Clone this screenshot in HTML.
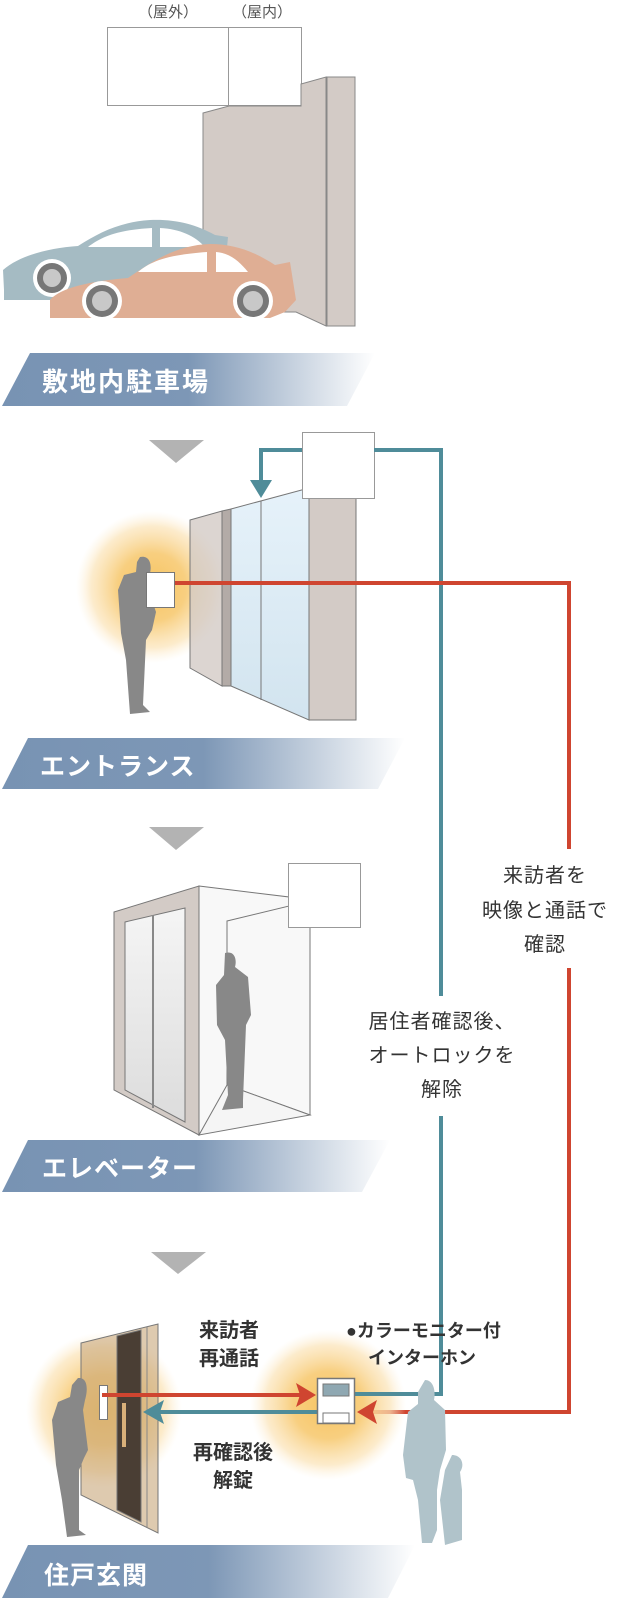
<!DOCTYPE html>
<html><head><meta charset="utf-8"><style>
html,body{margin:0;padding:0;background:#fff}
svg{display:block}
text{font-family:"Liberation Sans","Noto Sans CJK JP",sans-serif}
</style></head><body>
<svg width="621" height="1599" viewBox="0 0 621 1599" xmlns="http://www.w3.org/2000/svg">
<defs>
<linearGradient id="ban" x1="0" x2="1" y1="0" y2="0">
<stop offset="0" stop-color="#7893b3"/><stop offset="0.5" stop-color="#7d97b6"/><stop offset="1" stop-color="#ffffff"/>
</linearGradient>
<radialGradient id="glow"><stop offset="0" stop-color="#f6c461"/><stop offset="0.45" stop-color="#f8cf80"/><stop offset="0.8" stop-color="#fbe3b6" stop-opacity="0.7"/><stop offset="1" stop-color="#fdf0d8" stop-opacity="0"/></radialGradient>
<linearGradient id="glass" x1="0" x2="0" y1="0" y2="1"><stop offset="0" stop-color="#e6f2fa"/><stop offset="1" stop-color="#d2e4ef"/></linearGradient>
<linearGradient id="elv" x1="0" x2="0" y1="0" y2="1"><stop offset="0" stop-color="#f5f5f5"/><stop offset="1" stop-color="#dcdcdc"/></linearGradient>
</defs>

<text x="168" y="17" font-size="15" fill="#555" text-anchor="middle">（屋外）</text>
<text x="262" y="17" font-size="15" fill="#555" text-anchor="middle">（屋内）</text>
<rect x="107.5" y="27.5" width="121" height="78" fill="#fff" stroke="#999"/>
<rect x="228.5" y="27.5" width="73" height="78" fill="#fff" stroke="#999"/>
<polygon points="203,113 229,106 301,106 301,84 326,77 326,326 296,312 203,312" fill="#d3cbc6" stroke="#888"/>
<rect x="327" y="77" width="28" height="249" fill="#d3cbc6" stroke="#888"/>
<path d="M4,290 L3,270 C20,255 50,248 78,246 C100,232 120,222 150,220 C175,219 195,224 215,235 L228,237 L222,300 L4,300 Z" fill="#a5bbc3"/>
<path d="M88,247 C100,238 115,230 152,228 L152,247 Z M160,228 C180,229 195,236 205,247 L160,247 Z" fill="#fff"/>
<circle cx="52" cy="278" r="19" fill="#fff"/><circle cx="52" cy="278" r="15" fill="#777"/><circle cx="52" cy="278" r="9" fill="#c8c8c8"/>
<path d="M50,318 L50,300 C60,288 90,281 128,278 C150,263 175,245 210,244 C235,244 255,252 275,265 L290,262 L296,300 L285,312 L270,318 Z" fill="#dfae94"/>
<path d="M138,272 C150,262 165,255 207,252 L207,272 Z M216,252 C230,253 240,262 248,272 L216,272 Z" fill="#fff"/>
<circle cx="102" cy="301" r="20" fill="#fff"/><circle cx="102" cy="301" r="16" fill="#777"/><circle cx="102" cy="301" r="10" fill="#c8c8c8"/>
<circle cx="253" cy="301" r="20" fill="#fff"/><circle cx="253" cy="301" r="16" fill="#777"/><circle cx="253" cy="301" r="10" fill="#c8c8c8"/>

<polygon points="30,353 375,353 347,406 2,406" fill="url(#ban)"/>
<text x="42" y="391" font-size="26" fill="#fff" letter-spacing="2" font-weight="bold">敷地内駐車場</text>
<polygon points="149,440 204,440 176,463" fill="#b3b3b3"/>

<ellipse cx="152" cy="587" rx="76" ry="76" fill="url(#glow)"/>
<polygon points="190,520 222,511 222,686 190,668" fill="#d3cbc6" fill-opacity="0.8" stroke="#777"/>
<polygon points="222,511 231,509 231,686 222,686" fill="#b3aba7" stroke="#777"/>
<polygon points="231,509 309,488 309,720 231,686" fill="url(#glass)" stroke="#777"/>
<line x1="261" y1="501" x2="261" y2="700" stroke="#777"/>
<rect x="309" y="498" width="47" height="222" fill="#d3cbc6" stroke="#777"/>
<path d="M140,557 C150,555 152,565 150,573 L147,585 L156,612 L152,630 L146,640 L143,705 L150,712 L130,714 L126,660 L121,633 L118,590 L124,575 L136,572 L137,562 Z" fill="#888"/>
<rect x="146.5" y="572.5" width="28" height="35" fill="#fff" stroke="#777"/>
<rect x="302.5" y="432.5" width="72" height="66" fill="#fff" stroke="#999"/>
<polyline points="302,450 261,450 261,485" fill="none" stroke="#4f8c99" stroke-width="4"/>
<polygon points="250,480 272,480 261,498" fill="#4f8c99"/>
<polyline points="374,450 441,450 441,996" fill="none" stroke="#4f8c99" stroke-width="4"/>
<line x1="441" y1="1116" x2="441" y2="1396" stroke="#4f8c99" stroke-width="4"/>
<polyline points="175,583 569,583 569,849" fill="none" stroke="#cf4530" stroke-width="4"/>
<polyline points="569,968 569,1412 370,1412" fill="none" stroke="#cf4530" stroke-width="4"/>

<polygon points="28,738 405,738 378,789 2,789" fill="url(#ban)"/>
<text x="40" y="775" font-size="25" fill="#fff" letter-spacing="1" font-weight="bold">エントランス</text>
<polygon points="149,827 204,827 176,850" fill="#b3b3b3"/>

<polygon points="199,886 289,897 289,921 227,921 227,1120 199,1135" fill="#f8f8f8" stroke="#777"/>
<polygon points="227,921 289,906 310,926 310,1115 227,1085" fill="#f8f8f8" stroke="#777"/>
<polygon points="227,1085 310,1115 199,1135" fill="#f5f5f5" stroke="#777"/>
<polygon points="114,912 199,886 199,1135 114,1090" fill="#d3cbc6" stroke="#777"/>
<polygon points="125,922 185,908 185,1122 125,1090" fill="url(#elv)" stroke="#777"/>
<line x1="153" y1="915" x2="153" y2="1108" stroke="#888" stroke-width="2"/>
<path d="M225,953 C235,950 237,960 235,967 L248,977 L251,1015 L246,1025 L243,1100 L243,1108 L222,1110 L228,1095 L225,1040 L217,1025 L216,985 L224,975 Z" fill="#888"/>
<rect x="288.5" y="863.5" width="72" height="64" fill="#fff" stroke="#999"/>

<g font-size="20" fill="#333" text-anchor="middle" letter-spacing="1">
<text x="545" y="882">来訪者を</text>
<text x="545" y="917">映像と通話で</text>
<text x="545" y="951">確認</text>
<text x="442" y="1028">居住者確認後、</text>
<text x="442" y="1062">オートロックを</text>
<text x="442" y="1096">解除</text>
</g>

<polygon points="28,1140 390,1140 362,1192 2,1192" fill="url(#ban)"/>
<text x="42" y="1177" font-size="25" fill="#fff" letter-spacing="1" font-weight="bold">エレベーター</text>
<polygon points="151,1252 206,1252 178,1274" fill="#b3b3b3"/>

<ellipse cx="104" cy="1410" rx="78" ry="78" fill="url(#glow)"/>
<ellipse cx="328" cy="1405" rx="78" ry="75" fill="url(#glow)"/>
<polygon points="81,1343 158,1324 158,1533 81,1495" fill="#c8a77a" fill-opacity="0.6" stroke="#777"/>
<polygon points="117,1336 141,1330 141,1522 117,1510" fill="#4a3e34" stroke="#777"/>
<rect x="122" y="1403" width="4" height="44" fill="#d9b07a"/>
<line x1="147" y1="1327" x2="147" y2="1527" stroke="#888"/>
<path d="M78,1378 C88,1377 88,1390 85,1400 L83,1410 L88,1450 L84,1458 L79,1470 L79,1530 L86,1535 L67,1537 L62,1500 L56,1465 L52,1420 L58,1402 L70,1397 L72,1385 Z" fill="#888"/>
<rect x="99.5" y="1385.5" width="8" height="34" fill="#fff" stroke="#777"/>
<line x1="102" y1="1395" x2="300" y2="1395" stroke="#cf4530" stroke-width="4"/>
<polygon points="316,1395 296,1383 300,1395 296,1407" fill="#cf4530"/>
<line x1="317" y1="1412" x2="160" y2="1412" stroke="#4f8c99" stroke-width="4"/>
<polygon points="143,1412 164,1400 160,1412 164,1424" fill="#4f8c99"/>
<polygon points="357,1412 377,1400 373,1412 377,1424" fill="#cf4530"/>
<line x1="354" y1="1394" x2="443" y2="1394" stroke="#4f8c99" stroke-width="4"/>
<rect x="317.5" y="1378.5" width="37" height="45" fill="#fff" stroke="#777" stroke-width="1.5"/>
<rect x="323" y="1384" width="26" height="12" fill="#8fa8b2" stroke="#777"/>
<rect x="323" y="1413" width="26" height="10" fill="#fff" stroke="#777"/>
<path d="M425,1380 C433,1380 436,1390 434,1400 L445,1410 L446,1450 L440,1470 L437,1490 L437,1530 L432,1543 L422,1543 L418,1500 L413,1480 L406,1478 L403,1455 L408,1412 L418,1404 L418,1392 Z" fill="#b0c3ca"/>
<path d="M452,1455 C462,1455 465,1465 460,1472 L462,1490 L462,1540 L445,1545 L440,1500 L445,1470 Z" fill="#b0c3ca"/>

<g font-size="20" fill="#333" text-anchor="middle" font-weight="bold">
<text x="229" y="1337">来訪者</text>
<text x="229" y="1365">再通話</text>
<text x="233" y="1459">再確認後</text>
<text x="233" y="1487">解錠</text>
</g>
<text x="346" y="1337" font-size="18" fill="#333" font-weight="bold">●カラーモニター付</text>
<text x="368" y="1364" font-size="18" fill="#333" font-weight="bold">インターホン</text>

<polygon points="28,1545 415,1545 388,1598 2,1598" fill="url(#ban)"/>
<text x="44" y="1584" font-size="25" fill="#fff" letter-spacing="1" font-weight="bold">住戸玄関</text>
</svg>
</body></html>
